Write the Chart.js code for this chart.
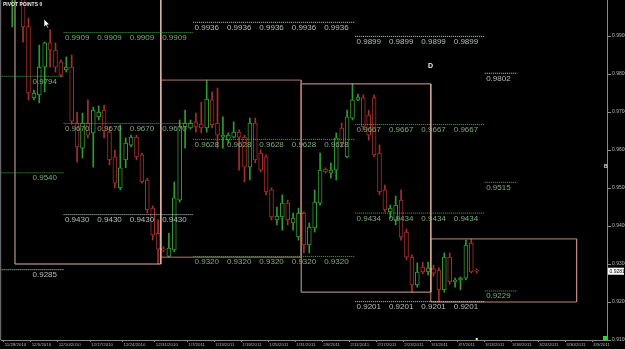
<!DOCTYPE html>
<html><head><meta charset="utf-8">
<script src="https://cdn.jsdelivr.net/npm/chart.js@4.4.0/dist/chart.umd.min.js"></script>
<style>html,body{margin:0;padding:0;background:#000;overflow:hidden}canvas{display:block}</style>
</head><body>
<canvas id="c" width="625" height="349"></canvas>
<script>
// ---- daily candles (bar index 0 = 11/29/2010) ----
const opens  = [1.0034,1.0040,1.0060,1.0010,0.9925,0.9737,0.9745,0.9818,0.9882,0.9863,0.9832,0.9811,0.9818,0.9671,0.9605,0.9671,0.9645,0.9687,0.9705,0.9647,0.9582,0.9500,0.9574,0.9613,0.9634,0.9587,0.9521,0.9447,0.9381,0.9339,0.9320,0.9337,0.9468,0.9661,0.9658,0.9674,0.9668,0.9658,0.9732,0.9671,0.9634,0.9626,0.9634,0.9647,0.9634,0.9555,0.9671,0.9592,0.9582,0.9495,0.9416,0.9424,0.9460,0.9408,0.9371,0.9434,0.9350,0.9395,0.9460,0.9550,0.9539,0.9547,0.9658,0.9582,0.9684,0.9732,0.9737,0.9692,0.9737,0.9592,0.9495,0.9437,0.9416,0.9468,0.9384,0.9318,0.9245,0.9292,0.9279,0.9287,0.9284,0.9232,0.9318,0.9253,0.9258,0.9263,0.9355,0.9284];
const highs  = [1.0061,1.0074,1.0070,1.0021,0.9947,0.9758,0.9876,0.9884,0.9916,0.9882,0.9837,0.9845,0.9850,0.9700,0.9697,0.9732,0.9713,0.9716,0.9718,0.9661,0.9600,0.9666,0.9632,0.9639,0.9639,0.9592,0.9526,0.9453,0.9416,0.9345,0.9381,0.9516,0.9679,0.9705,0.9679,0.9697,0.9726,0.9784,0.9753,0.9763,0.9687,0.9645,0.9674,0.9653,0.9639,0.9684,0.9684,0.9600,0.9587,0.9500,0.9450,0.9482,0.9468,0.9434,0.9447,0.9437,0.9408,0.9495,0.9592,0.9553,0.9566,0.9645,0.9671,0.9705,0.9774,0.9747,0.9745,0.9705,0.9745,0.9613,0.9508,0.9455,0.9479,0.9495,0.9392,0.9324,0.9303,0.9305,0.9305,0.9297,0.9290,0.9329,0.9329,0.9263,0.9266,0.9363,0.9366,0.9287];
const lows   = [1.0008,0.9924,1.0000,0.9884,0.9732,0.9732,0.9724,0.9753,0.9818,0.9805,0.9792,0.9805,0.9668,0.9568,0.9579,0.9632,0.9555,0.9679,0.9632,0.9561,0.9500,0.9495,0.9553,0.9608,0.9574,0.9513,0.9434,0.9363,0.9300,0.9332,0.9318,0.9332,0.9463,0.9605,0.9655,0.9647,0.9645,0.9647,0.9658,0.9605,0.9605,0.9618,0.9632,0.9547,0.9516,0.9521,0.9566,0.9542,0.9482,0.9416,0.9403,0.9389,0.9403,0.9389,0.9363,0.9329,0.9329,0.9384,0.9455,0.9539,0.9526,0.9521,0.9608,0.9579,0.9679,0.9729,0.9653,0.9626,0.9582,0.9482,0.9437,0.9421,0.9403,0.9363,0.9311,0.9226,0.9239,0.9274,0.9271,0.9268,0.9200,0.9226,0.9247,0.9239,0.9232,0.9258,0.9276,0.9276];
const closes = [1.0047,1.0060,1.0010,0.9924,0.9750,0.9750,0.9818,0.9882,0.9863,0.9818,0.9797,0.9818,0.9676,0.9608,0.9671,0.9639,0.9705,0.9700,0.9650,0.9574,0.9513,0.9553,0.9618,0.9634,0.9582,0.9516,0.9442,0.9376,0.9339,0.9337,0.9342,0.9474,0.9661,0.9671,0.9671,0.9661,0.9658,0.9734,0.9666,0.9639,0.9639,0.9639,0.9647,0.9634,0.9555,0.9671,0.9574,0.9547,0.9490,0.9424,0.9426,0.9460,0.9416,0.9421,0.9434,0.9350,0.9397,0.9463,0.9547,0.9542,0.9547,0.9632,0.9618,0.9687,0.9732,0.9739,0.9661,0.9639,0.9587,0.9490,0.9442,0.9447,0.9455,0.9371,0.9318,0.9245,0.9279,0.9279,0.9290,0.9276,0.9232,0.9318,0.9253,0.9258,0.9263,0.9350,0.9279,0.9281];

// date axis: bar index of each label, and label text
const xTickBars   = [0,5,10,16,22,28,34,39,44,49,54,59,64,69,74,79,84,89,94,99,104,109];
const xTickLabels = ['11/29/2010','12/5/2010','12/10/2010','12/17/2010','12/24/2010','12/31/2010','1/7/2011','1/13/2011','1/19/2011','1/25/2011','1/31/2011','2/6/2011','2/11/2011','2/17/2011','2/23/2011','3/1/2011','3/7/2011','3/13/2011','3/18/2011','3/24/2011','3/30/2011','4/5/2011'];
const yTickValues = [0.91,0.92,0.93,0.94,0.95,0.96,0.97,0.98,0.99];

// monthly ranges (first bar of each month, first bar of next month)
const monthStarts = [2,29,55,79];
const monthEnds   = [29,55,79,106];

// pivot groups: bar span and levels
const pivotSpans  = [[-1.2,10.5],[10.5,34.5],[34.5,64.5],[64.5,88.5],[88.5,94.5]];
const pivotLevels = [[0.9794,0.9540,0.9285],[0.9909,0.9670,0.9430],[0.9936,0.9628,0.9320],[0.9899,0.9667,0.9434,0.9201],[0.9802,0.9515,0.9229]];
const pivotKinds  = [['g','g','w'],['g','g','w'],['w','g','g'],['w','g','g','w'],['w','g','g']];

// ---- styles ----
const UP = '#2f9c2f', DOWN = '#a82e2a';
const lineCol = {g:'#45b445', w:'#c6dada'};
const textCol = {g:'#7daa7d', w:'#b6bebe'};
const boxCols = ['#dcb4a4','#ad7868','#d4a696','#bd897a'];
const AX = '#8a8a8a';

const N = opens.length;
const cols = opens.map((o,i)=> closes[i] >= o ? UP : DOWN);

const datasets = [];
pivotSpans.forEach((sp,g)=>{
  pivotLevels[g].forEach((lv,j)=>{
    datasets.push({type:'line', order:0, clip:0, data:[{x:sp[0],y:lv},{x:sp[1],y:lv}],
      borderColor:lineCol[pivotKinds[g][j]], borderWidth:1, borderDash:[1,1], pointRadius:0, pointHoverRadius:0, tension:0});
  });
});
monthStarts.forEach((s,k)=>{
  const e = monthEnds[k];
  const hi = Math.max(...highs.slice(s, Math.min(e,N)));
  const lo = Math.min(...lows.slice(s, Math.min(e,N)));
  const a = s-0.5, b = e-0.5;
  datasets.push({type:'line', order:1, clip:0, data:[{x:a,y:hi},{x:b,y:hi},{x:b,y:lo},{x:a,y:lo},{x:a,y:hi}],
    borderColor:boxCols[k], borderWidth:1, pointRadius:0, pointHoverRadius:0, tension:0});
});
datasets.push({type:'scatter', order:1, clip:0, data: monthStarts.map(s=>({x:s-0.5, y:opens[s]})),
  pointStyle:'rect', pointRadius:1.4, pointHoverRadius:0, backgroundColor:'#f3a03c', borderWidth:0});
datasets.push({type:'bar', order:2, clip:0, grouped:false, barThickness:4,
  data: opens.map((o,i)=>({x:i, y:[o, closes[i]]})),
  backgroundColor:'#000', borderColor:cols, borderWidth:1, borderSkipped:false});
datasets.push({type:'bar', order:3, clip:0, grouped:false, barThickness:1,
  data: opens.map((o,i)=>({x:i, y:[lows[i], highs[i]]})),
  backgroundColor:cols, borderWidth:0});

const overlay = {
  id:'overlay',
  beforeDraw(chart){ const c=chart.ctx; c.save(); c.fillStyle='#000'; c.fillRect(0,0,chart.width,chart.height); c.restore(); },
  afterDatasetsDraw(chart){
    const {ctx, chartArea:a, scales:{x, y}} = chart;
    ctx.save();
    ctx.fillStyle = '#666'; ctx.fillRect(0, 0, 1.2, a.bottom);
    ctx.save();
    ctx.beginPath(); ctx.rect(a.left, a.top, a.right-a.left, a.bottom-a.top); ctx.clip();
    ctx.font = '8px "Liberation Sans"'; ctx.textAlign='left'; ctx.textBaseline='alphabetic';
    pivotSpans.forEach((sp,g)=>{
      pivotLevels[g].forEach((lv,j)=>{
        ctx.fillStyle = textCol[pivotKinds[g][j]];
        for (let p = sp[1]-5.75; p >= sp[0]; p -= 6) {
          ctx.fillText(lv.toFixed(4), x.getPixelForValue(p), y.getPixelForValue(lv)+7.5);
        }
      });
    });
    ctx.fillStyle = '#e6e6e6'; ctx.font = 'bold 5px "Liberation Sans"'; ctx.textBaseline='top';
    ctx.fillText('PIVOT POINTS 0', 3, 2);
    ctx.font = 'bold 7px "Liberation Sans"'; ctx.fillStyle='#eeeeee';
    ctx.fillText('D', x.getPixelForValue(78), y.getPixelForValue(0.9822)-3);
    ctx.fillStyle = '#ffff70'; ctx.fillRect(x.getPixelForValue(N-1)-1, a.bottom-2, 2, 2);
    ctx.fillStyle = '#2ed62e'; ctx.fillRect(a.right-4, a.bottom-4, 4, 4);
    // mouse pointer
    ctx.fillStyle='#ffffff'; ctx.strokeStyle='#000'; ctx.lineWidth=0.6;
    ctx.beginPath(); ctx.moveTo(44,19); ctx.lineTo(44,27); ctx.lineTo(46,25.2); ctx.lineTo(47.5,28); ctx.lineTo(48.5,27.4); ctx.lineTo(47.2,24.8); ctx.lineTo(49.5,24.6); ctx.closePath(); ctx.fill(); ctx.stroke();
    ctx.restore();
    ctx.fillStyle='#e0e0e0'; ctx.font='bold 5px "Liberation Sans"'; ctx.textBaseline='middle'; ctx.textAlign='left';
    ctx.fillText('B', a.right-3, y.getPixelForValue(0.9555));
    const last = closes[N-1], py = y.getPixelForValue(last);
    ctx.fillStyle='#ffffff'; ctx.fillRect(a.right+1, py-3.5, 16, 7);
    ctx.fillStyle='#000'; ctx.font='5px "Liberation Sans"'; ctx.textBaseline='middle';
    ctx.fillText(last.toFixed(4), a.right+2.5, py+0.3);
    ctx.restore();
  }
};

new Chart(document.getElementById('c'), {
  type:'bar',
  data:{datasets},
  options:{
    responsive:false, animation:false, devicePixelRatio:1,
    layout:{autoPadding:false, padding:{left:1, right:0, top:0, bottom:0}},
    plugins:{legend:{display:false}, tooltip:{enabled:false}},
    scales:{
      x:{type:'linear', min:-1.09, max:111.13, offset:false,
        grid:{drawOnChartArea:false, drawTicks:true, tickLength:2, color:AX, offset:false},
        border:{display:true, color:AX},
        ticks:{autoSkip:false, maxRotation:0, minRotation:0, align:'start', labelOffset:1, padding:0,
          color:'#b8b8b8', font:{size:4.4, family:'Liberation Sans'},
          callback:(v)=>{ const k = xTickBars.indexOf(Math.round(v+0.6)); return k>=0 ? xTickLabels[k] : ''; }},
        afterBuildTicks:(s)=>{ s.ticks = xTickBars.map(b=>({value:b-0.6})); },
        afterFit:(s)=>{ s.height = 9; s.paddingLeft = 0; s.paddingRight = 0; }
      },
      y:{type:'linear', position:'right', min:0.91, max:0.999474,
        grid:{drawOnChartArea:false, drawTicks:true, tickLength:4, color:AX},
        border:{display:true, color:AX},
        ticks:{padding:1, color:'#b8b8b8', font:{size:5, family:'Liberation Sans'}, callback:(v)=>Number(v).toFixed(4)},
        afterBuildTicks:(s)=>{ s.ticks = yTickValues.map(v=>({value:v})); },
        afterFit:(s)=>{ s.width = 18; s.paddingTop = 0; s.paddingBottom = 0; }
      }
    }
  },
  plugins:[overlay]
});
</script>
</body></html>
